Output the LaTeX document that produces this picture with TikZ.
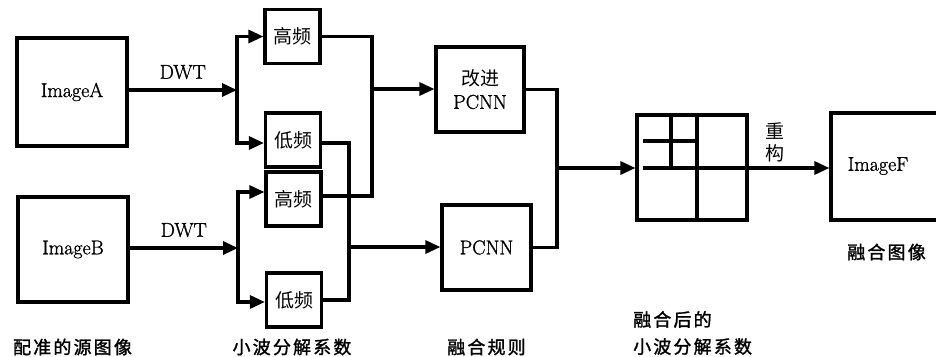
\documentclass[tikz,border=0pt]{standalone}
\usepackage{fontspec}
\usetikzlibrary{arrows.meta}
\newfontfamily\latfont[FakeBold=1.2]{Latin Modern Roman}
\newfontfamily\cjkfont{Noto Sans CJK SC}
\newfontfamily\cjkcapfont[LetterSpace=12,FakeBold=1.5]{Noto Sans CJK SC}
\newcommand\latsz{\latfont\fontsize{20}{23}\selectfont}
\newcommand\cjsz{\cjkfont\fontsize{19}{22}\selectfont}
\newcommand\capsz{\cjkcapfont\fontsize{18}{27}\selectfont}
\begin{document}
\begin{tikzpicture}[x=1pt,y=-1pt,
  box/.style={draw,line width=3.2pt,inner sep=0pt,font=\latsz},
  cbox/.style={box,font=\cjsz,minimum width=55pt,minimum height=54pt},
  ln/.style={line width=3.2pt},
  arr/.style={ln,-{Triangle[length=15pt,width=13pt]}},
  captxt/.style={font=\capsz,inner sep=0pt}]
\useasboundingbox (0,0) rectangle (936,356);
\clip (0,0) rectangle (936,356);
% source images
\node[box,minimum width=110pt,minimum height=108pt] (A) at (72,92) {ImageA};
\node[box,minimum width=110pt,minimum height=105pt] (B) at (73,249.5) {ImageB};
% wavelet coefficient boxes
\node[cbox] (hA) at (292.5,36.5) {高频};
\node[cbox] (lA) at (293,140) {低频};
\node[cbox] (hB) at (293.5,199) {高频};
\node[cbox] (lB) at (294,300) {低频};
% fusion rules
\node[box,minimum width=88pt,minimum height=85pt,align=center] (P1) at (480,89.5) {{\cjsz 改进}\\PCNN};
\node[box,minimum width=89pt,minimum height=85pt] (P2) at (486.5,247.5) {PCNN};
% fused coefficient grid
\node[box,minimum width=110pt,minimum height=105pt] (G) at (692,167.5) {};
% fused image (right edge cut by page border)
\node[box,minimum width=120pt,minimum height=107pt] (F) at (891,166.5) {};
\node[font=\latsz] (Ft) at (878,166) {ImageF};
% junction coordinates
\coordinate (jA) at (237,90);
\coordinate (jB) at (238,248);
\coordinate (kH) at (372,89);
\coordinate (kL) at (349,247);
\coordinate (kG) at (557,168);
\coordinate (gs) at (643,168);
% DWT arrows
\draw[arr] (A.east |- jA) -- node[above=6pt,font=\latsz] (dwtA) {DWT} (jA);
\draw[arr] (B.east |- jB) -- node[above=6pt,font=\latsz] (dwtB) {DWT} (jB);
\draw[arr] (jA) |- (hA.west);
\draw[arr] (jA) |- ([yshift=-3pt]lA.west);
\draw[arr] (jB) |- ([yshift=7pt]hB.west);
\draw[arr] (jB) |- ([yshift=-2pt]lB.west);
% high frequency to improved PCNN
\draw[ln] (hA.east) -| (kH) |- ([yshift=3pt]hB.east);
\draw[arr] (kH) -- (P1.west |- kH);
% low frequency to PCNN
\draw[ln] ([yshift=-3pt]lA.east) -| (kL) |- (lB.east);
\draw[arr] (kL) -- (P2.west |- kL);
% fusion outputs to grid
\draw[ln] (P1.east) -| (kG) |- (P2.east);
\draw[arr] (kG) -- (G.west |- kG);
% grid internals
\draw[ln] (G.north -| 697,0) -- (G.south -| 697,0);
\draw[ln] (G.north -| 671,0) -- (671,168);
\draw[ln] (643,141) -- (697,141);
% reconstruction arrow
\draw[arr] (gs) -- node[above=4pt,pos=0.71,font=\cjsz,align=center,inner sep=0pt] (rec) {重\\构} (F.west |- gs);
% captions
\node[captxt] (c1) at (72.5,347) {配准的源图像};
\node[captxt] (c2) at (292,347) {小波分解系数};
\node[captxt] (c3) at (486.5,347) {融合规则};
\node[captxt,align=left,anchor=west] (c4) at (633,333) {融合后的\\小波分解系数};
\node[captxt] (c5) at (886.5,252) {融合图像};
\end{tikzpicture}
\end{document}
